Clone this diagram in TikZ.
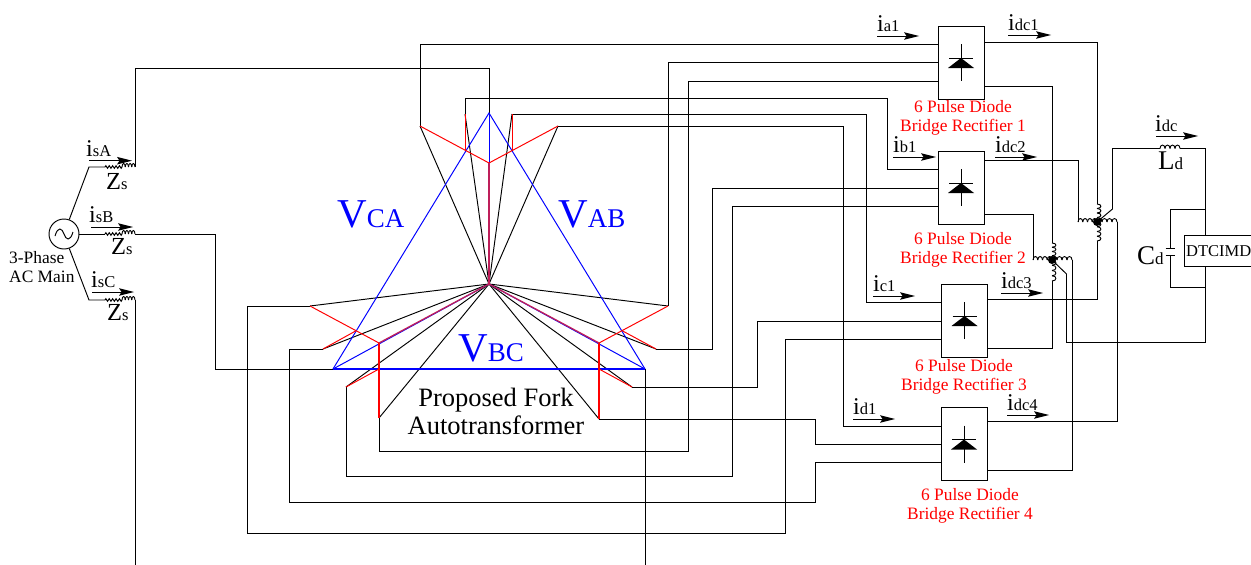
\documentclass[tikz,border=0pt]{standalone}
\usepackage{fontspec}
\setmainfont{Liberation Serif}
\usetikzlibrary{arrows.meta,decorations.pathmorphing,calc}
\definecolor{purebl}{RGB}{0,0,255}
\definecolor{purerd}{RGB}{255,0,0}
\definecolor{forkmix}{RGB}{190,30,90}
\newcommand{\fs}[1]{\fontsize{#1}{#1}\selectfont}
\newcommand{\sublab}[2]{{\fs{24}#1}{\fs{16.5}#2}}
\newcommand{\biglab}[2]{{\fs{27}#1}{\fs{17}#2}}
\newcommand{\zlab}[2]{{\fs{24.5}#1}{\fs{16.5}#2}}
\newcommand{\curr}[4]{\coordinate (#1s) at (#2,#4);\coordinate (#1e) at (#3,#4);\draw[wire] (#1s) -- ($(#1e)+(-8,0)$);\fill[black] (#1e) -- ($(#1e)+(-15,-3.8)$) -- ($(#1e)+(-12.5,0)$) -- ($(#1e)+(-15,3.8)$) -- cycle;}
\newcommand{\hbumps}[4]{\foreach \k in {1,...,#4}{\draw[wire] ({#1+(\k-1)*#2},#3) .. controls ({#1+(\k-1)*#2},#3-4.6) and ({#1+\k*#2},#3-4.6) .. ({#1+\k*#2},#3);}}
\newcommand{\vbumps}[4]{\foreach \k in {1,...,#4}{\draw[wire] (#1,{#2+(\k-1)*#3}) .. controls (#1+5.2,{#2+(\k-1)*#3}) and (#1+5.2,{#2+\k*#3}) .. (#1,{#2+\k*#3});}}
\tikzset{
  wire/.style={draw=black,line width=0.95pt,line join=miter},
  bluel/.style={draw=purebl,line width=0.98pt},
  redl/.style={draw=purerd,line width=0.98pt},
  redw/.style={draw=purerd,line width=1.35pt},
  bluew/.style={draw=purebl,line width=1.35pt},
  mixl/.style={draw=forkmix,line width=1.3pt},
  rect/.style={draw=black,line width=0.95pt,fill=white,minimum width=46pt,minimum height=73pt,inner sep=0pt},
  lab/.style={anchor=base west,inner sep=0pt,text=black},
  vlab/.style={anchor=base west,inner sep=0pt,text=purebl},
  redtxt/.style={inner sep=0pt,text=purerd,align=center,font=\fontsize{17.4}{19}\selectfont},
  blktxt/.style={inner sep=0pt,text=black,align=center},
  junction/.style={circle,fill=black,inner sep=0pt,minimum size=8pt}
}
\begin{document}
\begin{tikzpicture}[x=1pt,y=-1pt]
\useasboundingbox (0,0) rectangle (1251,565);
% rectifier boxes
\node[rect] (R1) at (961,62.5) {};
\node[rect] (R2) at (961,187.5) {};
\node[rect] (R3) at (964.5,320.5) {};
\node[rect] (R4) at (964,444) {};
\foreach \b in {R1,R2,R3,R4}{
  \begin{scope}[shift={(\b.center)}]
    \draw[wire] (0,-18.5) -- (0,18.5);
    \draw[wire] (-12,-4.5) -- (12,-4.5);
    \fill[black] (-13,5.5) -- (0,-4.5) -- (13,5.5) -- cycle;
  \end{scope}
}
% terminals
\coordinate (N) at (489,284);
\coordinate (Ap) at (489,113);
\coordinate (BL) at (333,369);
\coordinate (BR) at (645,369);
\coordinate (Am) at (489,163);
\coordinate (Ta) at (420,126);\coordinate (Tb) at (465,114);\coordinate (Tc) at (512,114);\coordinate (Td) at (558,126);
\coordinate (Tbm) at (465,150);\coordinate (Tcm) at (512,150);
\coordinate (Ra) at (668,306);\coordinate (Rb) at (656,349);\coordinate (Rc) at (632,387);\coordinate (Rd) at (599,419);
\coordinate (Rm) at (599,343);\coordinate (Rbm) at (622.7,331);\coordinate (Rcm) at (599,369);
\coordinate (La) at (310,306);\coordinate (Lb) at (323,349);\coordinate (Lc) at (346,387);\coordinate (Ld) at (379,418);
\coordinate (Lm) at (379,343);\coordinate (Lbm) at (355.6,331);\coordinate (Lcm) at (379,369);
% rectifier input terminals
\coordinate (R1a) at (R1.west |- 0,44);\coordinate (R1b) at (R1.west |- 0,62.5);\coordinate (R1c) at (R1.west |- 0,81);
\coordinate (R2a) at (R2.west |- 0,169);\coordinate (R2b) at (R2.west |- 0,188);\coordinate (R2c) at (R2.west |- 0,206);
\coordinate (R3a) at (R3.west |- 0,302);\coordinate (R3b) at (R3.west |- 0,321);\coordinate (R3c) at (R3.west |- 0,339);
\coordinate (R4a) at (R4.west |- 0,426);\coordinate (R4b) at (R4.west |- 0,444);\coordinate (R4c) at (R4.west |- 0,462.5);
% source
\node[circle,draw=black,line width=0.95pt,minimum size=30pt,inner sep=0pt] (S) at (64,234) {};
\draw[wire] (55,236) .. controls (58,226) and (62,228) .. (64,234) .. controls (66,240) and (70,242) .. (73,232);
\coordinate (ZaL) at (105,167);\coordinate (ZaM) at (122,167);\coordinate (ZaR) at (135,167);
\coordinate (ZbL) at (105,234);\coordinate (ZbM) at (122,234);\coordinate (ZbR) at (135,234);
\coordinate (ZcL) at (105,300);\coordinate (ZcM) at (122,300);\coordinate (ZcR) at (135,300);
\draw[wire] (S.70) -- (89,167) -- (ZaL);
\draw[wire] (S.east) -- (ZbL);
\draw[wire] (S.-70) -- (89,300) -- (ZcL);
\foreach \z in {Za,Zb,Zc}{
  \draw[wire,decorate,decoration={zigzag,amplitude=1.3pt,segment length=3.4pt}] (\z L) -- (\z M);
}
\hbumps{122}{3.25}{167}{4}
\hbumps{122}{3.25}{234}{4}
\hbumps{122}{3.25}{300}{4}
% line wires
\coordinate (CBot) at (135,566);\coordinate (BBot) at (645,566);
\draw[wire] (ZaR) |- (489,68) -- (Ap);
\draw[wire] (ZbR) -| (215,369) -- (BL);
\draw[wire] (ZcR) -- (CBot);
\draw[wire] (BR) -- (BBot);
% wires from fork terminals to rectifiers
\draw[wire] (Ta) |- (R1a);
\draw[wire] (Tb) |- (887,98) |- (R2a);
\draw[wire] (Tc) -| (866,302) -- (R3a);
\draw[wire] (Td) -| (843,426) -- (R4a);
\draw[wire] (Ra) -| (668,62.5) -- (R1b);
\draw[wire] (Rb) -| (712,188) -- (R2b);
\draw[wire] (Rc) -| (757,321) -- (R3b);
\draw[wire] (Rd) -| (815,444) -- (R4b);
\draw[wire] (Ld) |- (688,451) |- (R1c);
\draw[wire] (Lc) |- (732,476) |- (R2c);
\draw[wire] (La) -| (247,533) -| (785,339) -- (R3c);
\draw[wire] (Lb) -| (289,502) -| (815,462.5) -- (R4c);
% black fork legs
\foreach \t in {Ta,Tb,Tc,Td,Ra,Rb,Rc,Rd,La,Lb,Lc,Ld}{\draw[wire] (N) -- (\t);}
% blue star and triangle
\draw[bluel] (BL) -- (Ap) -- (BR);
\draw[bluew] (BL) -- (BR);
\draw[bluel] (Ap) -- (N);
\draw[bluel] (BL) -- (N) -- (BR);
% red windings
\draw[redl] (Ta) -- (Am) -- (Td);
\draw[redl] (Tb) -- (Tbm);
\draw[redl] (Tc) -- (Tcm);
\draw[redl] (La) -- (Lm);
\draw[redw] (Lm) -- (Ld);
\draw[redl] (Lb) -- (Lbm);
\draw[redl] (Lc) -- (Lcm);
\draw[redl] (Ra) -- (Rm);
\draw[redw] (Rm) -- (Rd);
\draw[redl] (Rb) -- (Rbm);
\draw[redl] (Rc) -- (Rcm);
\draw[mixl] (Am) -- (N);
\draw[mixl] (Lm) -- (N);
\draw[mixl] (Rm) -- (N);
% rectifier outputs and interphase transformers
\node[junction] (J1) at (1097,222) {};
\node[junction] (J2) at (1052,260) {};
\coordinate (J1t) at (1097,204);\coordinate (J1b) at (1097,241);\coordinate (J1l) at (1078,222);\coordinate (J1r) at (1117,222);
\coordinate (J2t) at (1052,243);\coordinate (J2b) at (1052,281);\coordinate (J2l) at (1033,260);\coordinate (J2r) at (1072,260);
\vbumps{1097}{204}{4.5}{4}
\vbumps{1097}{222}{4.75}{4}
\hbumps{1078}{4.75}{222}{4}
\hbumps{1097}{5}{222}{4}
\vbumps{1052}{243}{4.25}{4}
\vbumps{1052}{260}{5.25}{4}
\hbumps{1033}{4.75}{260}{4}
\hbumps{1052}{5}{260}{4}
\draw[wire] (R1.east |- 0,42.5) -| (J1t);
\draw[wire] (R1.east |- 0,86) -| (J2t);
\draw[wire] (R2.east |- 0,160.5) -| (J1l);
\draw[wire] (R2.east |- 0,214) -| (J2l);
\draw[wire] (R3.east |- 0,299) -| (J1b);
\draw[wire] (R3.east |- 0,348) -| (J2b);
\draw[wire] (R4.east |- 0,421) -| (J1r);
\draw[wire] (R4.east |- 0,470) -| (J2r);
% DC link
\coordinate (LdL) at (1160,148.5);\coordinate (LdR) at (1180,148.5);
\node[draw=black,line width=0.95pt,fill=white,inner sep=0pt,minimum width=69pt,minimum height=31pt,anchor=north west] (M) at (1184,235) {};
\draw[wire] (J1) -- (1112.5,209) |- (LdL);
\hbumps{1160}{5}{148.5}{4}
\draw[wire] (LdR) -| (1205.5,235);
\draw[wire] (1205.5,266) -- (1205.5,342.5) -| (1066.5,274) -- (J2);
\coordinate (Cp1) at (1170,248);\coordinate (Cp2) at (1170,255);
\draw[wire] (1205.5,209) -| (Cp1);
\draw[wire] (1205.5,287) -| (Cp2);
\draw[wire] (1165.5,248) -- (1174.5,248);
\draw[wire] (1165.5,255) -- (1174.5,255);
\node[blktxt,anchor=base west,font=\fs{16.5}] (MT) at (1186,256) {DTCIMD};
% current arrows
\curr{aA}{89}{132}{160.7}
\curr{aB}{91}{133}{227}
\curr{aC}{92}{134}{292}
\curr{a1}{877}{919}{36}
\curr{a2}{1008}{1051}{35}
\curr{a3}{893}{936}{157}
\curr{a4}{995}{1037}{157}
\curr{a5}{873}{915}{296}
\curr{a6}{1001}{1043}{293}
\curr{a7}{853}{895}{419}
\curr{a8}{1007}{1049}{415}
\curr{a9}{1156}{1198}{136}
% labels
\node[lab] (lsA) at (86,156) {\sublab{i}{sA}};
\node[lab] (lsB) at (89,222) {\sublab{i}{sB}};
\node[lab] (lsC) at (91,287) {\sublab{i}{sC}};
\node[lab] (lz1) at (106,189) {\zlab{Z}{s}};
\node[lab] (lz2) at (111,254) {\zlab{Z}{s}};
\node[lab] (lz3) at (107,320) {\zlab{Z}{s}};
\node[lab] (la1) at (877,31) {\sublab{i}{a1}};
\node[lab] (ld1) at (1008,30.7) {\sublab{i}{dc1}};
\node[lab] (lb1) at (893,152.7) {\sublab{i}{b1}};
\node[lab] (ld2) at (995,152) {\sublab{i}{dc2}};
\node[lab] (lc1) at (873,291) {\sublab{i}{c1}};
\node[lab] (ld3) at (1001,288) {\sublab{i}{dc3}};
\node[lab] (li1) at (853,414) {\sublab{i}{d1}};
\node[lab] (ld4) at (1007,410.5) {\sublab{i}{dc4}};
\node[lab] (lidc) at (1155,131) {\sublab{i}{dc}};
\node[lab] (lL) at (1158,169) {\biglab{L}{d}};
\node[lab] (lC) at (1137,264) {\biglab{C}{d}};
\node[vlab] (vca) at (337,227) {{\fs{41}V}{\fs{27}CA}};
\node[vlab] (vab) at (558,227) {{\fs{41}V}{\fs{27}AB}};
\node[vlab] (vbc) at (458,361) {{\fs{41}V}{\fs{27}BC}};
\node[redtxt] (t1) at (963,118) {6 Pulse Diode\\Bridge Rectifier 1};
\node[redtxt] (t2) at (963,250) {6 Pulse Diode\\Bridge Rectifier 2};
\node[redtxt] (t3) at (964,377) {6 Pulse Diode\\Bridge Rectifier 3};
\node[redtxt] (t4) at (970,506) {6 Pulse Diode\\Bridge Rectifier 4};
\node[blktxt,align=left,anchor=west,font=\fontsize{17.4}{19}\selectfont] (tac) at (9,267) {3-Phase\\AC Main};
\node[blktxt,font=\fontsize{26.5}{28}\selectfont] (tf) at (496,411) {Proposed Fork\\Autotransformer};
\end{tikzpicture}
\end{document}
